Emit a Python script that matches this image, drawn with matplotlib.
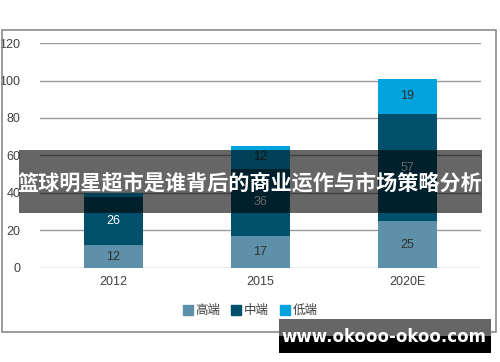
import matplotlib.pyplot as plt
from matplotlib.patches import Rectangle, Patch

plt.rcParams["font.family"] = ["Liberation Sans", "Noto Sans CJK SC", "DejaVu Sans"]

years = ["2012", "2015", "2020E"]
high_end = [12, 17, 25]
mid_end = [26, 36, 57]
low_end = [2, 12, 19]
series_names = ["高端", "中端", "低端"]
colors = ["#5f90a9", "#00506c", "#00a3dc"]
label_colors = ["#303030", "#ffffff", "#303030"]

fig = plt.figure(figsize=(5, 3.62), dpi=100)
ax = fig.add_axes([0.08, 0.2597, 0.882, 0.6215])

# outer chart frame
fig.patches.append(Rectangle((2 / 500, 1 - 332 / 362), 494 / 500, 302 / 362,
                             transform=fig.transFigure, fill=False,
                             edgecolor="#8a8a8a", linewidth=1.2, zorder=0))

x = range(len(years))
bottom = [0] * len(years)
for vals, col, lc in zip([high_end, mid_end, low_end], colors, label_colors):
    ax.bar(x, vals, bottom=bottom, width=0.4, color=col, zorder=3)
    for i, v in enumerate(vals):
        if v >= 5:
            ax.text(i, bottom[i] + v / 2, str(v), ha="center", va="center",
                    fontsize=9, color=lc, zorder=4)
    bottom = [b + v for b, v in zip(bottom, vals)]

ax.set_xlim(-0.5, 2.5)
ax.set_ylim(0, 120)
ax.set_yticks(range(0, 121, 20))
ax.set_xticks(list(x))
ax.set_xticklabels(years)
ax.yaxis.grid(True, color="#999999", linewidth=1)
ax.set_axisbelow(True)
for s in ax.spines.values():
    s.set_visible(False)
ax.tick_params(length=0, labelsize=9, colors="#404040")
ax.tick_params(axis="x", pad=6)
ax.tick_params(axis="y", pad=14)

handles = [Patch(color=c) for c in colors]
fig.legend(handles, series_names, loc="center", bbox_to_anchor=(0.5, 1 - 311 / 362),
           ncol=3, frameon=False, fontsize=9, handlelength=0.8, handleheight=0.8,
           handletextpad=0.2, columnspacing=0.9, labelcolor="#404040")

# overlay banner
fig.patches.append(Rectangle((19 / 500, 1 - 213 / 362), 463 / 500, 63 / 362,
                             transform=fig.transFigure, color="black", alpha=0.6,
                             zorder=10, linewidth=0))
fig.text(250 / 500, 1 - 183 / 362, "篮球明星超市是谁背后的商业运作与市场策略分析",
         ha="center", va="center", fontsize=15.2, color="white", weight="bold",
         family=["Noto Sans CJK SC", "DejaVu Sans"], zorder=11)

# watermark
fig.patches.append(Rectangle((279 / 500, 1 - 336 / 362), 212 / 500, 17 / 362,
                             transform=fig.transFigure, color="#666666",
                             zorder=10, linewidth=0))
fig.patches.append(Rectangle((279 / 500, 1 - 353 / 362), 212 / 500, 17 / 362,
                             transform=fig.transFigure, color="black",
                             zorder=10, linewidth=0))
fig.text(384 / 500, 1 - 337 / 362, "www.okooo-okoo.com", ha="center", va="center",
         fontsize=12, color="white", weight="bold", family="DejaVu Sans", zorder=11)

fig.savefig("out.png", dpi=100)
